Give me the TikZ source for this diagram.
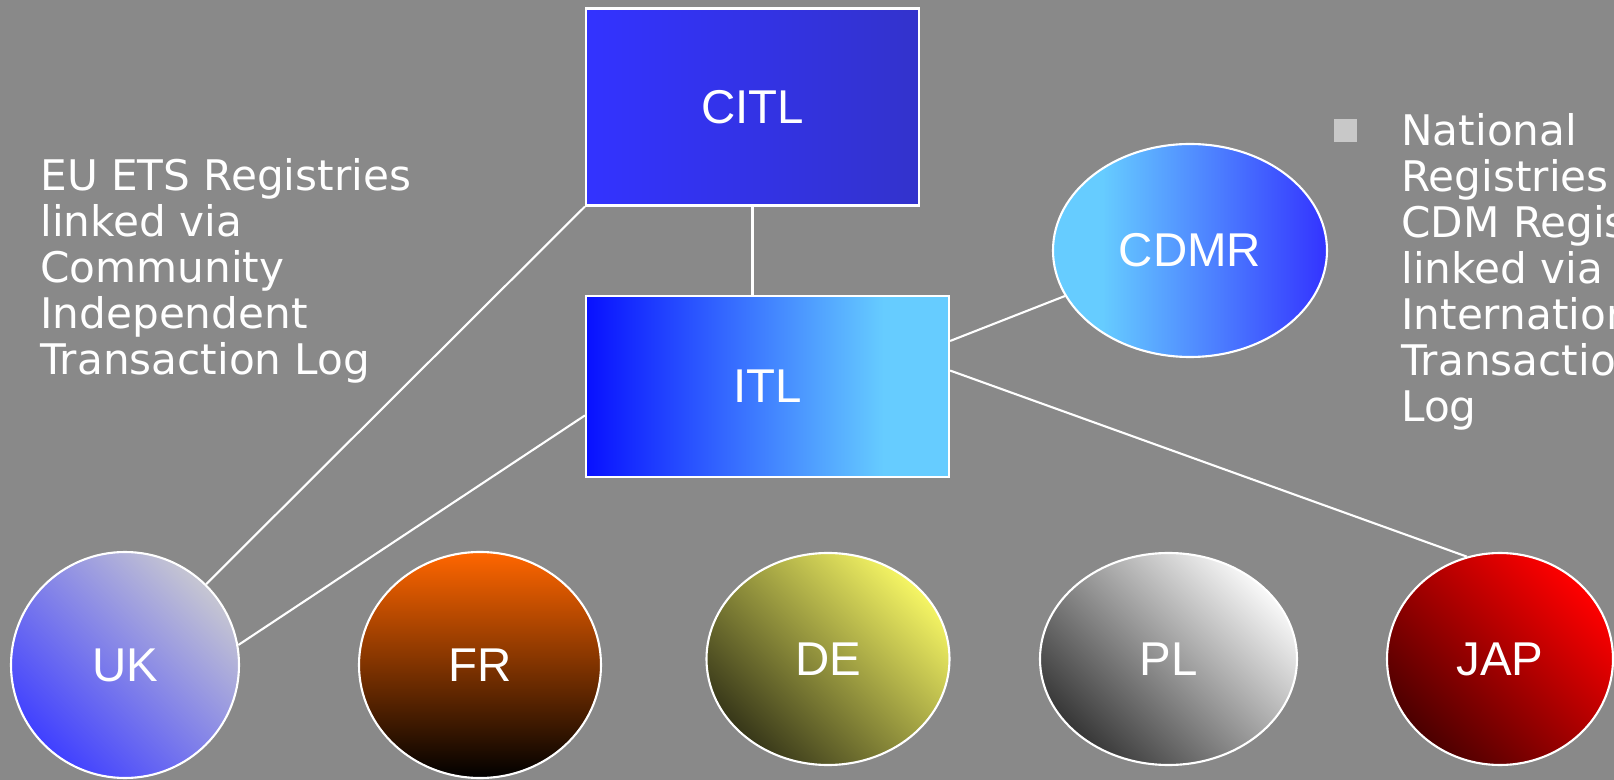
\documentclass[tikz,border=0pt]{standalone}
\usepackage{fontspec}
\setmainfont{Liberation Sans}
\newfontfamily\notefont{DejaVu Sans}
\usetikzlibrary{shapes.geometric}

\definecolor{slidegray}{RGB}{137,137,137}
\definecolor{bulletgray}{RGB}{200,200,200}
\definecolor{citlleft}{RGB}{51,51,255}
\definecolor{citlright}{RGB}{51,51,204}
\definecolor{itlblue}{RGB}{8,16,255}
\definecolor{itlcyan}{RGB}{102,204,255}
\definecolor{cdmrblue}{RGB}{51,51,255}

\pgfdeclarehorizontalshading{itlshade}{100bp}{color(0bp)=(itlblue); color(25bp)=(itlblue); color(66bp)=(itlcyan); color(100bp)=(itlcyan)}
\pgfdeclarehorizontalshading{cdmrshade}{100bp}{color(0bp)=(itlcyan); color(34bp)=(itlcyan); color(75bp)=(cdmrblue); color(100bp)=(cdmrblue)}

\tikzset{
    logbox/.style={rectangle, draw=white, line width=1.2pt, text=white,
        inner sep=0pt, font=\fontsize{27}{30}\selectfont},
    registry/.style={ellipse, draw=white, line width=1.2pt, text=white,
        inner sep=0pt, font=\fontsize{27}{30}\selectfont},
    link/.style={white, line width=1.2pt},
    note/.style={anchor=north west, text=white, align=left, inner sep=0pt,
        font=\notefont\fontsize{24}{26.2}\selectfont},
    bulletbox/.style={fill=bulletgray, minimum width=0.46cm, minimum height=0.45cm, inner sep=0pt}
}

\begin{document}
\begin{tikzpicture}[x=0.02cm, y=-0.02cm]
    \def\u{0.02cm}

% background

    \clip (0,0) rectangle (1614,780);
    \fill[slidegray] (0,0) rectangle (1614,780);

% transaction logs

    \node[logbox, left color=citlleft, right color=citlright,
        minimum width=333*\u, minimum height=197*\u] (citl) at (752.5,107) {CITL};
    \node[logbox, shading=itlshade,
        minimum width=363*\u, minimum height=181.6*\u] (itl) at (767.5,386.5) {ITL};
    \node[registry, shading=cdmrshade,
        minimum width=274*\u, minimum height=213*\u] (cdmr) at (1190,250.5) {CDMR};

% registries below

    \node[registry, top color={rgb,255:red,198;green,198;blue,210}, middle color={rgb,255:red,170;green,170;blue,222},
        bottom color={rgb,255:red,64;green,64;blue,255}, shading angle=-45,
        minimum width=228*\u, minimum height=226*\u] (uk) at (125,665) {UK};
    \node[registry, top color={rgb,255:red,255;green,102;blue,0}, middle color={rgb,255:red,200;green,80;blue,0},
        bottom color=black,
        minimum width=242*\u, minimum height=226*\u] (fr) at (480,665) {FR};
    \node[registry, top color={rgb,255:red,245;green,245;blue,100}, middle color={rgb,255:red,190;green,190;blue,78},
        bottom color={rgb,255:red,55;green,55;blue,25}, shading angle=-45,
        minimum width=243*\u, minimum height=212*\u] (de) at (828,659) {DE};
    \node[registry, top color={rgb,255:red,248;green,248;blue,248}, middle color={rgb,255:red,205;green,205;blue,205},
        bottom color={rgb,255:red,55;green,55;blue,55}, shading angle=-45,
        minimum width=257*\u, minimum height=212*\u] (pl) at (1168.5,659) {PL};
    \node[registry, top color={rgb,255:red,255;green,0;blue,0}, middle color={rgb,255:red,190;green,0;blue,0},
        bottom color={rgb,255:red,75;green,0;blue,0}, shading angle=-45,
        minimum width=226*\u, minimum height=212*\u] (jap) at (1500,659) {JAP};

% links

    \draw[link] (citl.south west) -- (uk);
    \draw[link] (citl.south) -- (citl.south |- itl.north);
    \draw[link] (itl.189.5) -- (uk.10.4);
    \draw[link] (itl.14.2) -- (cdmr.200.4);
    \draw[link] (itl.5) -- (jap.108.5);

% texts

    \node[note] (eutext) at (40,158) {EU ETS Registries\\linked via\\Community\\Independent\\Transaction Log};
    \node[bulletbox] (bullet) at (1345.7,130.5) {};
    \node[note] (nattext) at (1401,113) {National\\Registries\\CDM Registry\\linked via\\International\\Transaction\\Log};

\end{tikzpicture}
\end{document}
